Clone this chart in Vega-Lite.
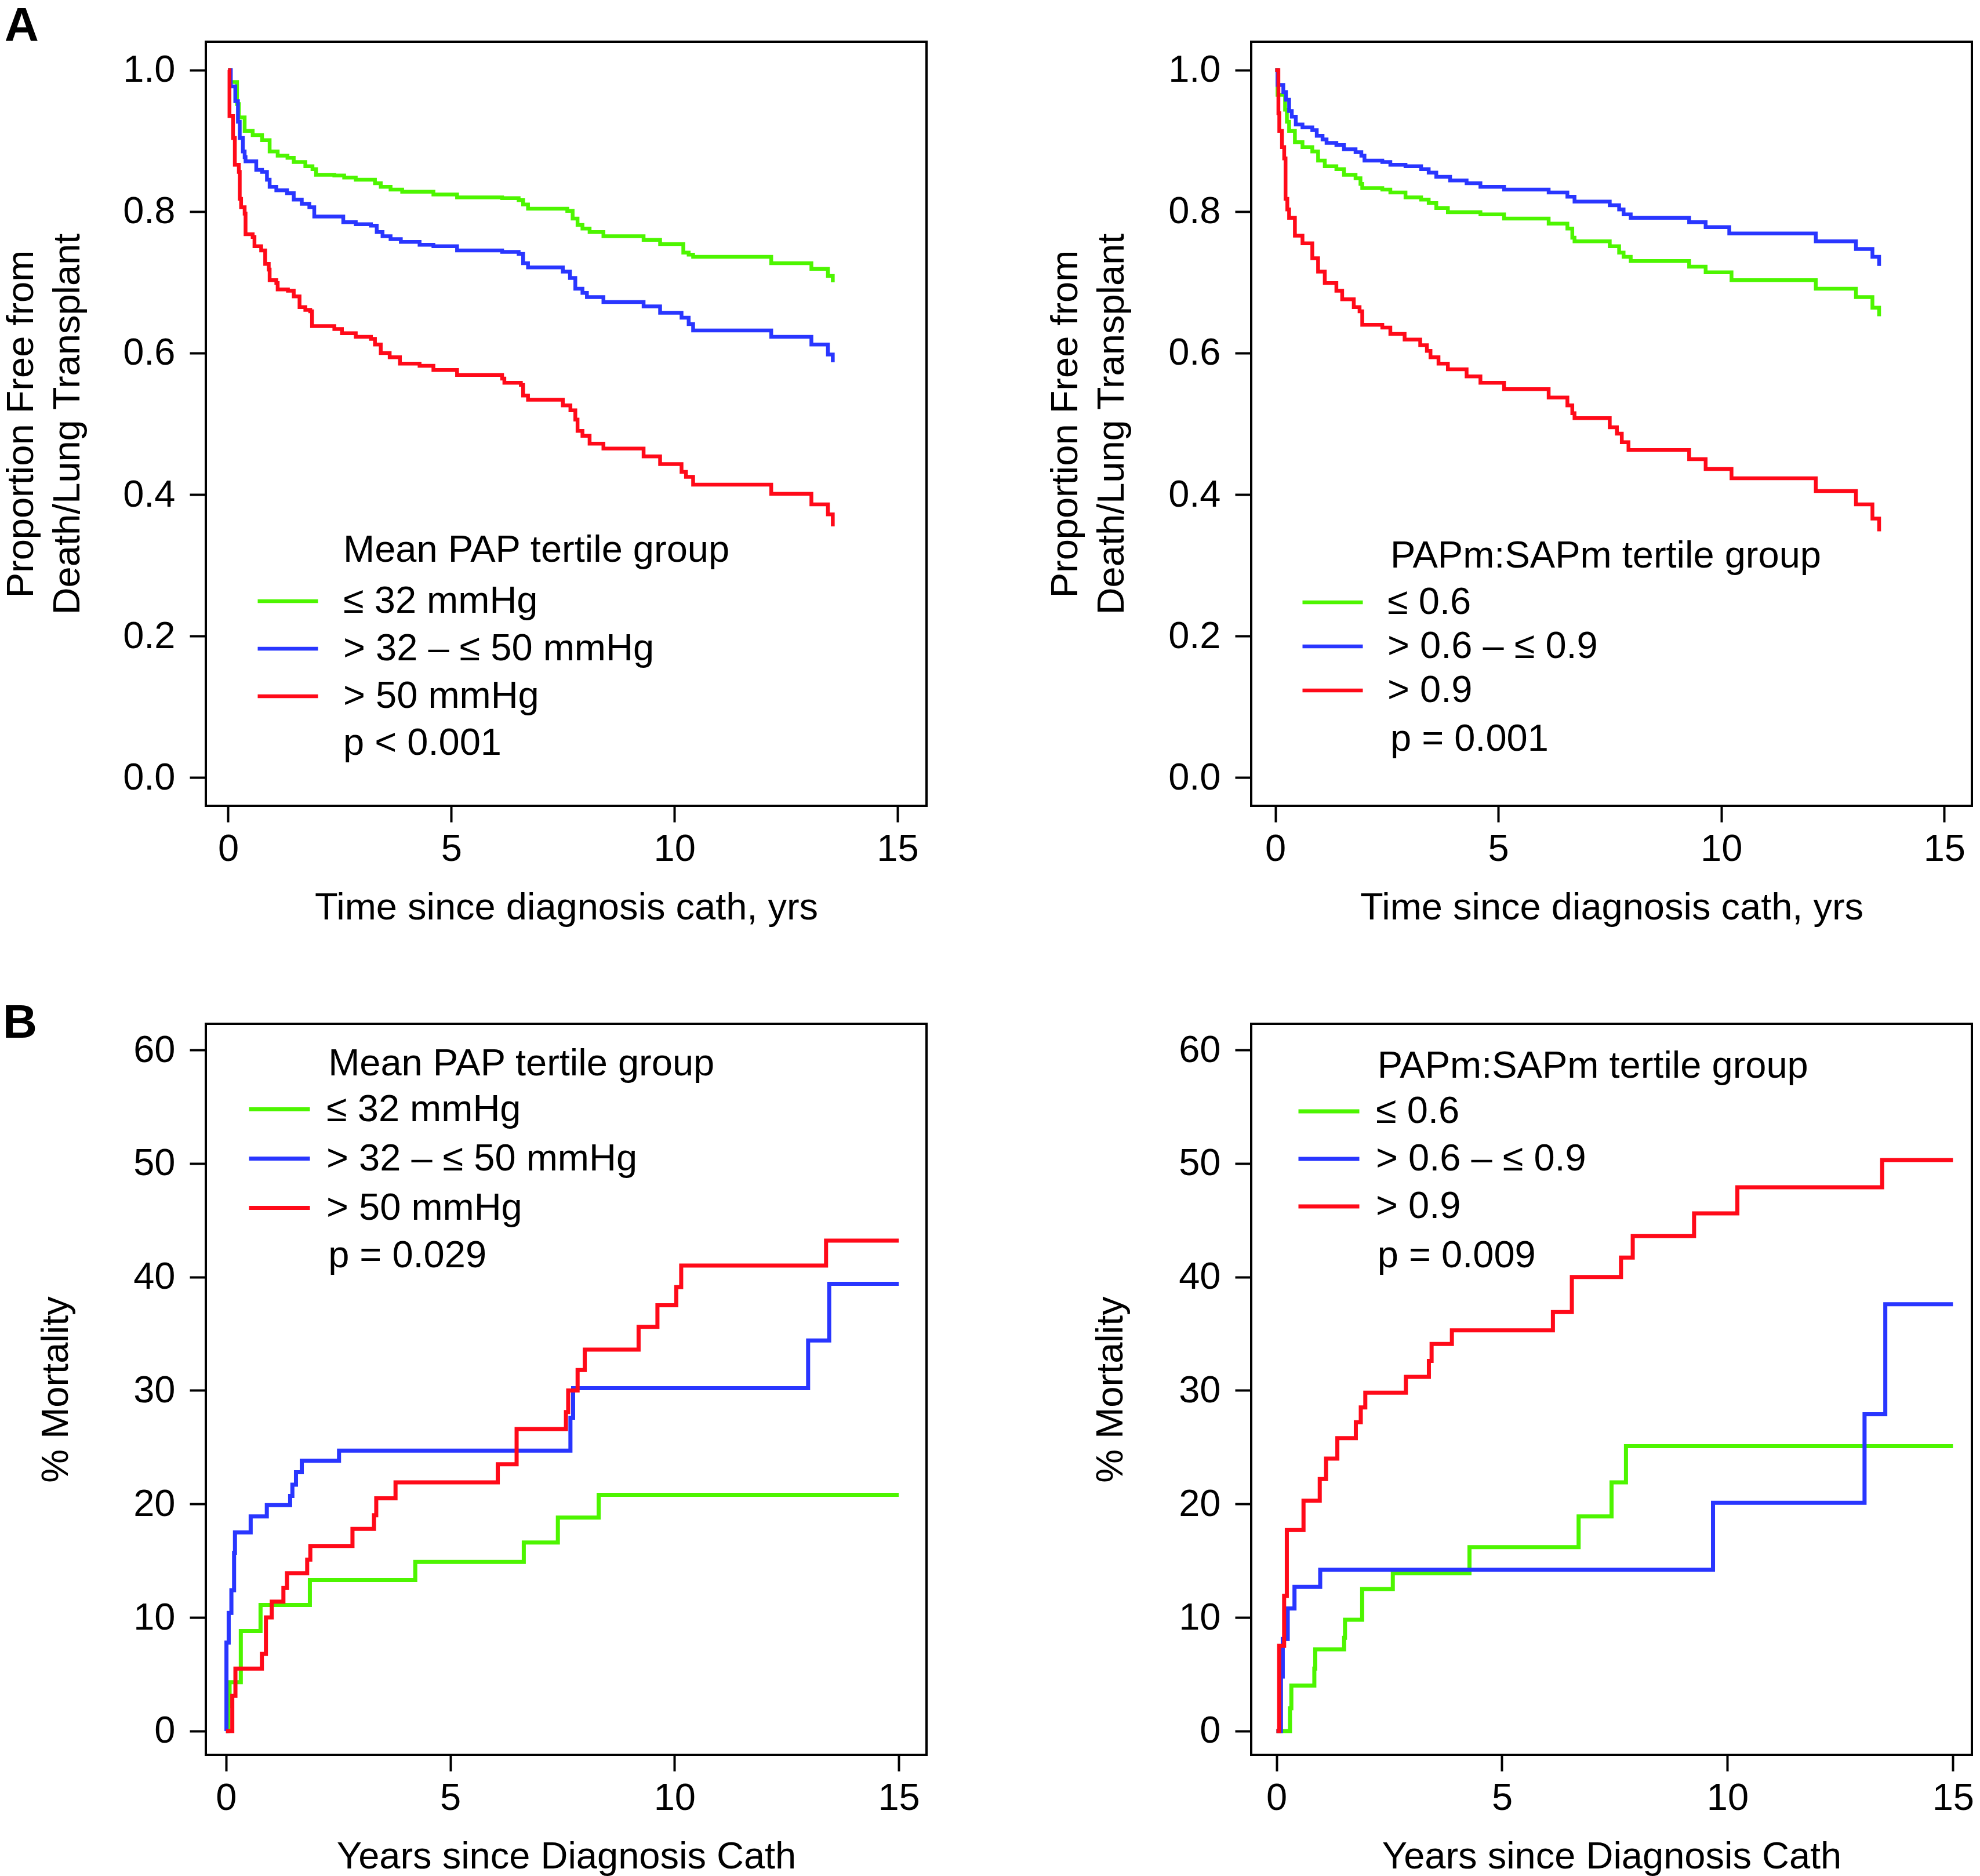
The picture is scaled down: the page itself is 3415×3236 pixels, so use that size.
{
  "$schema": "https://vega.github.io/schema/vega-lite/v6.json",
  "background": "white",
  "padding": {"left": 2, "top": 2, "right": 5, "bottom": 5},
  "config": {
    "font": "Liberation Sans",
    "view": {"stroke": "black", "strokeWidth": 4},
    "axis": {
      "domain": false, "grid": false, "ticks": true, "tickSize": 28, "tickWidth": 4, "tickColor": "black",
      "labelFont": "Liberation Sans", "labelFontSize": 65, "labelColor": "black",
      "titleFont": "Liberation Sans", "titleFontSize": 65, "titleFontWeight": "normal", "titleColor": "black",
      "labelPadding": 15, "titlePadding": 37, "labelFlush": false, "labelOverlap": false, "titleLineHeight": 80
    },
    "axisY": {"labelPadding": 25, "labelAngle": 0},
    "title": {"font": "Liberation Sans", "fontSize": 82, "fontWeight": "bold", "color": "black", "anchor": "start", "frame": "bounds", "baseline": "alphabetic"},
    "legend": {"padding": 0, "labelLimit": 0, "rowPadding": 0}
  },
  "datasets": {
    "km": [
      {"panel":"A1","group":"≤ 32 mmHg","t":0,"v":1.0},{"panel":"A1","group":"≤ 32 mmHg","t":0.05,"v":0.983},{"panel":"A1","group":"≤ 32 mmHg","t":0.2,"v":0.952},{"panel":"A1","group":"≤ 32 mmHg","t":0.24,"v":0.933},{"panel":"A1","group":"≤ 32 mmHg","t":0.37,"v":0.914},{"panel":"A1","group":"≤ 32 mmHg","t":0.55,"v":0.908},{"panel":"A1","group":"≤ 32 mmHg","t":0.76,"v":0.901},{"panel":"A1","group":"≤ 32 mmHg","t":0.93,"v":0.885},{"panel":"A1","group":"≤ 32 mmHg","t":1.11,"v":0.879},{"panel":"A1","group":"≤ 32 mmHg","t":1.33,"v":0.876},{"panel":"A1","group":"≤ 32 mmHg","t":1.47,"v":0.870},{"panel":"A1","group":"≤ 32 mmHg","t":1.73,"v":0.864},{"panel":"A1","group":"≤ 32 mmHg","t":1.89,"v":0.860},{"panel":"A1","group":"≤ 32 mmHg","t":1.97,"v":0.852},{"panel":"A1","group":"≤ 32 mmHg","t":2.38,"v":0.851},{"panel":"A1","group":"≤ 32 mmHg","t":2.6,"v":0.848},{"panel":"A1","group":"≤ 32 mmHg","t":2.86,"v":0.845},{"panel":"A1","group":"≤ 32 mmHg","t":3.29,"v":0.840},{"panel":"A1","group":"≤ 32 mmHg","t":3.42,"v":0.835},{"panel":"A1","group":"≤ 32 mmHg","t":3.64,"v":0.831},{"panel":"A1","group":"≤ 32 mmHg","t":3.9,"v":0.828},{"panel":"A1","group":"≤ 32 mmHg","t":4.6,"v":0.824},{"panel":"A1","group":"≤ 32 mmHg","t":5.13,"v":0.820},{"panel":"A1","group":"≤ 32 mmHg","t":6.14,"v":0.819},{"panel":"A1","group":"≤ 32 mmHg","t":6.51,"v":0.816},{"panel":"A1","group":"≤ 32 mmHg","t":6.61,"v":0.810},{"panel":"A1","group":"≤ 32 mmHg","t":6.72,"v":0.804},{"panel":"A1","group":"≤ 32 mmHg","t":7.6,"v":0.801},{"panel":"A1","group":"≤ 32 mmHg","t":7.72,"v":0.790},{"panel":"A1","group":"≤ 32 mmHg","t":7.83,"v":0.781},{"panel":"A1","group":"≤ 32 mmHg","t":7.94,"v":0.776},{"panel":"A1","group":"≤ 32 mmHg","t":8.1,"v":0.771},{"panel":"A1","group":"≤ 32 mmHg","t":8.41,"v":0.765},{"panel":"A1","group":"≤ 32 mmHg","t":9.31,"v":0.760},{"panel":"A1","group":"≤ 32 mmHg","t":9.68,"v":0.754},{"panel":"A1","group":"≤ 32 mmHg","t":10.2,"v":0.742},{"panel":"A1","group":"≤ 32 mmHg","t":10.32,"v":0.739},{"panel":"A1","group":"≤ 32 mmHg","t":10.42,"v":0.736},{"panel":"A1","group":"≤ 32 mmHg","t":12.17,"v":0.727},{"panel":"A1","group":"≤ 32 mmHg","t":13.07,"v":0.719},{"panel":"A1","group":"≤ 32 mmHg","t":13.44,"v":0.709},{"panel":"A1","group":"≤ 32 mmHg","t":13.55,"v":0.700},
      {"panel":"A1","group":"> 32 – ≤ 50 mmHg","t":0,"v":1.0},{"panel":"A1","group":"> 32 – ≤ 50 mmHg","t":0.06,"v":0.977},{"panel":"A1","group":"> 32 – ≤ 50 mmHg","t":0.16,"v":0.956},{"panel":"A1","group":"> 32 – ≤ 50 mmHg","t":0.22,"v":0.927},{"panel":"A1","group":"> 32 – ≤ 50 mmHg","t":0.26,"v":0.904},{"panel":"A1","group":"> 32 – ≤ 50 mmHg","t":0.33,"v":0.885},{"panel":"A1","group":"> 32 – ≤ 50 mmHg","t":0.37,"v":0.877},{"panel":"A1","group":"> 32 – ≤ 50 mmHg","t":0.39,"v":0.871},{"panel":"A1","group":"> 32 – ≤ 50 mmHg","t":0.63,"v":0.859},{"panel":"A1","group":"> 32 – ≤ 50 mmHg","t":0.76,"v":0.856},{"panel":"A1","group":"> 32 – ≤ 50 mmHg","t":0.87,"v":0.845},{"panel":"A1","group":"> 32 – ≤ 50 mmHg","t":0.93,"v":0.835},{"panel":"A1","group":"> 32 – ≤ 50 mmHg","t":1.08,"v":0.830},{"panel":"A1","group":"> 32 – ≤ 50 mmHg","t":1.32,"v":0.826},{"panel":"A1","group":"> 32 – ≤ 50 mmHg","t":1.47,"v":0.817},{"panel":"A1","group":"> 32 – ≤ 50 mmHg","t":1.65,"v":0.811},{"panel":"A1","group":"> 32 – ≤ 50 mmHg","t":1.82,"v":0.806},{"panel":"A1","group":"> 32 – ≤ 50 mmHg","t":1.93,"v":0.793},{"panel":"A1","group":"> 32 – ≤ 50 mmHg","t":2.58,"v":0.785},{"panel":"A1","group":"> 32 – ≤ 50 mmHg","t":2.86,"v":0.782},{"panel":"A1","group":"> 32 – ≤ 50 mmHg","t":3.2,"v":0.780},{"panel":"A1","group":"> 32 – ≤ 50 mmHg","t":3.33,"v":0.771},{"panel":"A1","group":"> 32 – ≤ 50 mmHg","t":3.46,"v":0.765},{"panel":"A1","group":"> 32 – ≤ 50 mmHg","t":3.64,"v":0.761},{"panel":"A1","group":"> 32 – ≤ 50 mmHg","t":3.87,"v":0.757},{"panel":"A1","group":"> 32 – ≤ 50 mmHg","t":4.29,"v":0.753},{"panel":"A1","group":"> 32 – ≤ 50 mmHg","t":4.6,"v":0.751},{"panel":"A1","group":"> 32 – ≤ 50 mmHg","t":5.13,"v":0.745},{"panel":"A1","group":"> 32 – ≤ 50 mmHg","t":6.14,"v":0.743},{"panel":"A1","group":"> 32 – ≤ 50 mmHg","t":6.51,"v":0.740},{"panel":"A1","group":"> 32 – ≤ 50 mmHg","t":6.61,"v":0.727},{"panel":"A1","group":"> 32 – ≤ 50 mmHg","t":6.72,"v":0.721},{"panel":"A1","group":"> 32 – ≤ 50 mmHg","t":7.5,"v":0.715},{"panel":"A1","group":"> 32 – ≤ 50 mmHg","t":7.66,"v":0.706},{"panel":"A1","group":"> 32 – ≤ 50 mmHg","t":7.78,"v":0.691},{"panel":"A1","group":"> 32 – ≤ 50 mmHg","t":7.94,"v":0.685},{"panel":"A1","group":"> 32 – ≤ 50 mmHg","t":8.04,"v":0.679},{"panel":"A1","group":"> 32 – ≤ 50 mmHg","t":8.41,"v":0.672},{"panel":"A1","group":"> 32 – ≤ 50 mmHg","t":9.31,"v":0.666},{"panel":"A1","group":"> 32 – ≤ 50 mmHg","t":9.68,"v":0.657},{"panel":"A1","group":"> 32 – ≤ 50 mmHg","t":10.16,"v":0.650},{"panel":"A1","group":"> 32 – ≤ 50 mmHg","t":10.32,"v":0.641},{"panel":"A1","group":"> 32 – ≤ 50 mmHg","t":10.42,"v":0.632},{"panel":"A1","group":"> 32 – ≤ 50 mmHg","t":12.17,"v":0.623},{"panel":"A1","group":"> 32 – ≤ 50 mmHg","t":13.07,"v":0.612},{"panel":"A1","group":"> 32 – ≤ 50 mmHg","t":13.44,"v":0.598},{"panel":"A1","group":"> 32 – ≤ 50 mmHg","t":13.55,"v":0.587},
      {"panel":"A1","group":"> 50 mmHg","t":0,"v":1.0},{"panel":"A1","group":"> 50 mmHg","t":0.03,"v":0.935},{"panel":"A1","group":"> 50 mmHg","t":0.11,"v":0.904},{"panel":"A1","group":"> 50 mmHg","t":0.15,"v":0.866},{"panel":"A1","group":"> 50 mmHg","t":0.24,"v":0.856},{"panel":"A1","group":"> 50 mmHg","t":0.26,"v":0.818},{"panel":"A1","group":"> 50 mmHg","t":0.29,"v":0.806},{"panel":"A1","group":"> 50 mmHg","t":0.37,"v":0.797},{"panel":"A1","group":"> 50 mmHg","t":0.39,"v":0.768},{"panel":"A1","group":"> 50 mmHg","t":0.55,"v":0.764},{"panel":"A1","group":"> 50 mmHg","t":0.59,"v":0.751},{"panel":"A1","group":"> 50 mmHg","t":0.74,"v":0.745},{"panel":"A1","group":"> 50 mmHg","t":0.83,"v":0.726},{"panel":"A1","group":"> 50 mmHg","t":0.91,"v":0.718},{"panel":"A1","group":"> 50 mmHg","t":0.93,"v":0.703},{"panel":"A1","group":"> 50 mmHg","t":1.08,"v":0.699},{"panel":"A1","group":"> 50 mmHg","t":1.11,"v":0.690},{"panel":"A1","group":"> 50 mmHg","t":1.34,"v":0.688},{"panel":"A1","group":"> 50 mmHg","t":1.47,"v":0.680},{"panel":"A1","group":"> 50 mmHg","t":1.6,"v":0.665},{"panel":"A1","group":"> 50 mmHg","t":1.73,"v":0.661},{"panel":"A1","group":"> 50 mmHg","t":1.84,"v":0.659},{"panel":"A1","group":"> 50 mmHg","t":1.88,"v":0.638},{"panel":"A1","group":"> 50 mmHg","t":2.38,"v":0.634},{"panel":"A1","group":"> 50 mmHg","t":2.55,"v":0.628},{"panel":"A1","group":"> 50 mmHg","t":2.86,"v":0.623},{"panel":"A1","group":"> 50 mmHg","t":3.2,"v":0.620},{"panel":"A1","group":"> 50 mmHg","t":3.29,"v":0.612},{"panel":"A1","group":"> 50 mmHg","t":3.42,"v":0.600},{"panel":"A1","group":"> 50 mmHg","t":3.62,"v":0.594},{"panel":"A1","group":"> 50 mmHg","t":3.85,"v":0.585},{"panel":"A1","group":"> 50 mmHg","t":4.29,"v":0.582},{"panel":"A1","group":"> 50 mmHg","t":4.6,"v":0.576},{"panel":"A1","group":"> 50 mmHg","t":5.13,"v":0.569},{"panel":"A1","group":"> 50 mmHg","t":6.14,"v":0.564},{"panel":"A1","group":"> 50 mmHg","t":6.19,"v":0.558},{"panel":"A1","group":"> 50 mmHg","t":6.56,"v":0.555},{"panel":"A1","group":"> 50 mmHg","t":6.61,"v":0.540},{"panel":"A1","group":"> 50 mmHg","t":6.72,"v":0.534},{"panel":"A1","group":"> 50 mmHg","t":7.5,"v":0.526},{"panel":"A1","group":"> 50 mmHg","t":7.67,"v":0.519},{"panel":"A1","group":"> 50 mmHg","t":7.78,"v":0.506},{"panel":"A1","group":"> 50 mmHg","t":7.83,"v":0.490},{"panel":"A1","group":"> 50 mmHg","t":7.94,"v":0.483},{"panel":"A1","group":"> 50 mmHg","t":8.1,"v":0.472},{"panel":"A1","group":"> 50 mmHg","t":8.41,"v":0.465},{"panel":"A1","group":"> 50 mmHg","t":9.31,"v":0.454},{"panel":"A1","group":"> 50 mmHg","t":9.68,"v":0.443},{"panel":"A1","group":"> 50 mmHg","t":10.16,"v":0.432},{"panel":"A1","group":"> 50 mmHg","t":10.26,"v":0.425},{"panel":"A1","group":"> 50 mmHg","t":10.42,"v":0.414},{"panel":"A1","group":"> 50 mmHg","t":12.17,"v":0.401},{"panel":"A1","group":"> 50 mmHg","t":13.07,"v":0.386},{"panel":"A1","group":"> 50 mmHg","t":13.44,"v":0.372},{"panel":"A1","group":"> 50 mmHg","t":13.55,"v":0.355},
      {"panel":"A2","group":"≤ 0.6","t":0,"v":1.0},{"panel":"A2","group":"≤ 0.6","t":0.05,"v":0.965},{"panel":"A2","group":"≤ 0.6","t":0.22,"v":0.944},{"panel":"A2","group":"≤ 0.6","t":0.26,"v":0.927},{"panel":"A2","group":"≤ 0.6","t":0.31,"v":0.914},{"panel":"A2","group":"≤ 0.6","t":0.44,"v":0.898},{"panel":"A2","group":"≤ 0.6","t":0.61,"v":0.891},{"panel":"A2","group":"≤ 0.6","t":0.83,"v":0.885},{"panel":"A2","group":"≤ 0.6","t":0.96,"v":0.872},{"panel":"A2","group":"≤ 0.6","t":1.11,"v":0.864},{"panel":"A2","group":"≤ 0.6","t":1.37,"v":0.860},{"panel":"A2","group":"≤ 0.6","t":1.54,"v":0.852},{"panel":"A2","group":"≤ 0.6","t":1.8,"v":0.847},{"panel":"A2","group":"≤ 0.6","t":1.91,"v":0.839},{"panel":"A2","group":"≤ 0.6","t":1.95,"v":0.833},{"panel":"A2","group":"≤ 0.6","t":2.4,"v":0.831},{"panel":"A2","group":"≤ 0.6","t":2.58,"v":0.827},{"panel":"A2","group":"≤ 0.6","t":2.92,"v":0.820},{"panel":"A2","group":"≤ 0.6","t":3.27,"v":0.817},{"panel":"A2","group":"≤ 0.6","t":3.44,"v":0.812},{"panel":"A2","group":"≤ 0.6","t":3.61,"v":0.805},{"panel":"A2","group":"≤ 0.6","t":3.87,"v":0.799},{"panel":"A2","group":"≤ 0.6","t":4.6,"v":0.796},{"panel":"A2","group":"≤ 0.6","t":5.13,"v":0.790},{"panel":"A2","group":"≤ 0.6","t":6.13,"v":0.783},{"panel":"A2","group":"≤ 0.6","t":6.55,"v":0.776},{"panel":"A2","group":"≤ 0.6","t":6.66,"v":0.763},{"panel":"A2","group":"≤ 0.6","t":6.71,"v":0.758},{"panel":"A2","group":"≤ 0.6","t":7.5,"v":0.751},{"panel":"A2","group":"≤ 0.6","t":7.71,"v":0.742},{"panel":"A2","group":"≤ 0.6","t":7.81,"v":0.736},{"panel":"A2","group":"≤ 0.6","t":7.97,"v":0.730},{"panel":"A2","group":"≤ 0.6","t":9.28,"v":0.722},{"panel":"A2","group":"≤ 0.6","t":9.65,"v":0.714},{"panel":"A2","group":"≤ 0.6","t":10.23,"v":0.703},{"panel":"A2","group":"≤ 0.6","t":12.12,"v":0.691},{"panel":"A2","group":"≤ 0.6","t":13.02,"v":0.679},{"panel":"A2","group":"≤ 0.6","t":13.39,"v":0.664},{"panel":"A2","group":"≤ 0.6","t":13.54,"v":0.652},
      {"panel":"A2","group":"> 0.6 – ≤ 0.9","t":0,"v":1.0},{"panel":"A2","group":"> 0.6 – ≤ 0.9","t":0.05,"v":0.979},{"panel":"A2","group":"> 0.6 – ≤ 0.9","t":0.18,"v":0.969},{"panel":"A2","group":"> 0.6 – ≤ 0.9","t":0.24,"v":0.958},{"panel":"A2","group":"> 0.6 – ≤ 0.9","t":0.31,"v":0.942},{"panel":"A2","group":"> 0.6 – ≤ 0.9","t":0.37,"v":0.934},{"panel":"A2","group":"> 0.6 – ≤ 0.9","t":0.46,"v":0.923},{"panel":"A2","group":"> 0.6 – ≤ 0.9","t":0.61,"v":0.919},{"panel":"A2","group":"> 0.6 – ≤ 0.9","t":0.83,"v":0.915},{"panel":"A2","group":"> 0.6 – ≤ 0.9","t":0.93,"v":0.907},{"panel":"A2","group":"> 0.6 – ≤ 0.9","t":1.06,"v":0.902},{"panel":"A2","group":"> 0.6 – ≤ 0.9","t":1.15,"v":0.897},{"panel":"A2","group":"> 0.6 – ≤ 0.9","t":1.37,"v":0.894},{"panel":"A2","group":"> 0.6 – ≤ 0.9","t":1.54,"v":0.888},{"panel":"A2","group":"> 0.6 – ≤ 0.9","t":1.8,"v":0.884},{"panel":"A2","group":"> 0.6 – ≤ 0.9","t":1.93,"v":0.879},{"panel":"A2","group":"> 0.6 – ≤ 0.9","t":2.0,"v":0.872},{"panel":"A2","group":"> 0.6 – ≤ 0.9","t":2.4,"v":0.870},{"panel":"A2","group":"> 0.6 – ≤ 0.9","t":2.58,"v":0.866},{"panel":"A2","group":"> 0.6 – ≤ 0.9","t":2.92,"v":0.864},{"panel":"A2","group":"> 0.6 – ≤ 0.9","t":3.27,"v":0.860},{"panel":"A2","group":"> 0.6 – ≤ 0.9","t":3.44,"v":0.855},{"panel":"A2","group":"> 0.6 – ≤ 0.9","t":3.61,"v":0.849},{"panel":"A2","group":"> 0.6 – ≤ 0.9","t":3.92,"v":0.844},{"panel":"A2","group":"> 0.6 – ≤ 0.9","t":4.29,"v":0.840},{"panel":"A2","group":"> 0.6 – ≤ 0.9","t":4.6,"v":0.835},{"panel":"A2","group":"> 0.6 – ≤ 0.9","t":5.13,"v":0.831},{"panel":"A2","group":"> 0.6 – ≤ 0.9","t":6.13,"v":0.827},{"panel":"A2","group":"> 0.6 – ≤ 0.9","t":6.55,"v":0.821},{"panel":"A2","group":"> 0.6 – ≤ 0.9","t":6.71,"v":0.814},{"panel":"A2","group":"> 0.6 – ≤ 0.9","t":7.5,"v":0.809},{"panel":"A2","group":"> 0.6 – ≤ 0.9","t":7.71,"v":0.803},{"panel":"A2","group":"> 0.6 – ≤ 0.9","t":7.81,"v":0.796},{"panel":"A2","group":"> 0.6 – ≤ 0.9","t":7.97,"v":0.791},{"panel":"A2","group":"> 0.6 – ≤ 0.9","t":9.28,"v":0.785},{"panel":"A2","group":"> 0.6 – ≤ 0.9","t":9.65,"v":0.778},{"panel":"A2","group":"> 0.6 – ≤ 0.9","t":10.18,"v":0.769},{"panel":"A2","group":"> 0.6 – ≤ 0.9","t":12.12,"v":0.758},{"panel":"A2","group":"> 0.6 – ≤ 0.9","t":13.02,"v":0.747},{"panel":"A2","group":"> 0.6 – ≤ 0.9","t":13.39,"v":0.736},{"panel":"A2","group":"> 0.6 – ≤ 0.9","t":13.54,"v":0.723},
      {"panel":"A2","group":"> 0.9","t":0,"v":1.0},{"panel":"A2","group":"> 0.9","t":0.07,"v":0.939},{"panel":"A2","group":"> 0.9","t":0.09,"v":0.914},{"panel":"A2","group":"> 0.9","t":0.15,"v":0.891},{"panel":"A2","group":"> 0.9","t":0.2,"v":0.875},{"panel":"A2","group":"> 0.9","t":0.23,"v":0.818},{"panel":"A2","group":"> 0.9","t":0.27,"v":0.803},{"panel":"A2","group":"> 0.9","t":0.31,"v":0.791},{"panel":"A2","group":"> 0.9","t":0.44,"v":0.766},{"panel":"A2","group":"> 0.9","t":0.61,"v":0.755},{"panel":"A2","group":"> 0.9","t":0.83,"v":0.734},{"panel":"A2","group":"> 0.9","t":0.96,"v":0.715},{"panel":"A2","group":"> 0.9","t":1.11,"v":0.699},{"panel":"A2","group":"> 0.9","t":1.37,"v":0.688},{"panel":"A2","group":"> 0.9","t":1.5,"v":0.676},{"panel":"A2","group":"> 0.9","t":1.76,"v":0.665},{"panel":"A2","group":"> 0.9","t":1.89,"v":0.659},{"panel":"A2","group":"> 0.9","t":1.95,"v":0.640},{"panel":"A2","group":"> 0.9","t":2.4,"v":0.636},{"panel":"A2","group":"> 0.9","t":2.58,"v":0.627},{"panel":"A2","group":"> 0.9","t":2.9,"v":0.619},{"panel":"A2","group":"> 0.9","t":3.25,"v":0.611},{"panel":"A2","group":"> 0.9","t":3.4,"v":0.603},{"panel":"A2","group":"> 0.9","t":3.48,"v":0.594},{"panel":"A2","group":"> 0.9","t":3.66,"v":0.585},{"panel":"A2","group":"> 0.9","t":3.87,"v":0.577},{"panel":"A2","group":"> 0.9","t":4.29,"v":0.567},{"panel":"A2","group":"> 0.9","t":4.6,"v":0.558},{"panel":"A2","group":"> 0.9","t":5.13,"v":0.549},{"panel":"A2","group":"> 0.9","t":6.13,"v":0.537},{"panel":"A2","group":"> 0.9","t":6.55,"v":0.526},{"panel":"A2","group":"> 0.9","t":6.66,"v":0.515},{"panel":"A2","group":"> 0.9","t":6.71,"v":0.508},{"panel":"A2","group":"> 0.9","t":7.5,"v":0.495},{"panel":"A2","group":"> 0.9","t":7.66,"v":0.486},{"panel":"A2","group":"> 0.9","t":7.77,"v":0.474},{"panel":"A2","group":"> 0.9","t":7.92,"v":0.463},{"panel":"A2","group":"> 0.9","t":9.28,"v":0.450},{"panel":"A2","group":"> 0.9","t":9.65,"v":0.436},{"panel":"A2","group":"> 0.9","t":10.23,"v":0.423},{"panel":"A2","group":"> 0.9","t":12.12,"v":0.405},{"panel":"A2","group":"> 0.9","t":13.02,"v":0.386},{"panel":"A2","group":"> 0.9","t":13.39,"v":0.366},{"panel":"A2","group":"> 0.9","t":13.54,"v":0.348},
      {"panel":"B1","group":"≤ 32 mmHg","t":0,"v":0},{"panel":"B1","group":"≤ 32 mmHg","t":0.05,"v":2.2},{"panel":"B1","group":"≤ 32 mmHg","t":0.08,"v":4.3},{"panel":"B1","group":"≤ 32 mmHg","t":0.33,"v":8.8},{"panel":"B1","group":"≤ 32 mmHg","t":0.77,"v":11.1},{"panel":"B1","group":"≤ 32 mmHg","t":1.87,"v":13.3},{"panel":"B1","group":"≤ 32 mmHg","t":4.22,"v":14.9},{"panel":"B1","group":"≤ 32 mmHg","t":6.64,"v":16.6},{"panel":"B1","group":"≤ 32 mmHg","t":7.4,"v":18.8},{"panel":"B1","group":"≤ 32 mmHg","t":8.31,"v":20.8},{"panel":"B1","group":"≤ 32 mmHg","t":15.0,"v":20.8},
      {"panel":"B1","group":"> 32 – ≤ 50 mmHg","t":0,"v":0},{"panel":"B1","group":"> 32 – ≤ 50 mmHg","t":0.01,"v":7.8},{"panel":"B1","group":"> 32 – ≤ 50 mmHg","t":0.06,"v":10.4},{"panel":"B1","group":"> 32 – ≤ 50 mmHg","t":0.12,"v":12.4},{"panel":"B1","group":"> 32 – ≤ 50 mmHg","t":0.18,"v":15.7},{"panel":"B1","group":"> 32 – ≤ 50 mmHg","t":0.2,"v":17.5},{"panel":"B1","group":"> 32 – ≤ 50 mmHg","t":0.55,"v":18.9},{"panel":"B1","group":"> 32 – ≤ 50 mmHg","t":0.91,"v":19.9},{"panel":"B1","group":"> 32 – ≤ 50 mmHg","t":1.43,"v":20.7},{"panel":"B1","group":"> 32 – ≤ 50 mmHg","t":1.48,"v":21.7},{"panel":"B1","group":"> 32 – ≤ 50 mmHg","t":1.56,"v":22.8},{"panel":"B1","group":"> 32 – ≤ 50 mmHg","t":1.69,"v":23.8},{"panel":"B1","group":"> 32 – ≤ 50 mmHg","t":2.52,"v":24.7},{"panel":"B1","group":"> 32 – ≤ 50 mmHg","t":7.68,"v":27.6},{"panel":"B1","group":"> 32 – ≤ 50 mmHg","t":7.74,"v":30.2},{"panel":"B1","group":"> 32 – ≤ 50 mmHg","t":12.98,"v":34.4},{"panel":"B1","group":"> 32 – ≤ 50 mmHg","t":13.45,"v":39.4},{"panel":"B1","group":"> 32 – ≤ 50 mmHg","t":15.0,"v":39.4},
      {"panel":"B1","group":"> 50 mmHg","t":0,"v":0},{"panel":"B1","group":"> 50 mmHg","t":0.14,"v":3.1},{"panel":"B1","group":"> 50 mmHg","t":0.21,"v":5.5},{"panel":"B1","group":"> 50 mmHg","t":0.8,"v":6.8},{"panel":"B1","group":"> 50 mmHg","t":0.89,"v":10.0},{"panel":"B1","group":"> 50 mmHg","t":1.02,"v":11.4},{"panel":"B1","group":"> 50 mmHg","t":1.28,"v":12.6},{"panel":"B1","group":"> 50 mmHg","t":1.36,"v":13.9},{"panel":"B1","group":"> 50 mmHg","t":1.81,"v":15.1},{"panel":"B1","group":"> 50 mmHg","t":1.88,"v":16.3},{"panel":"B1","group":"> 50 mmHg","t":2.82,"v":17.8},{"panel":"B1","group":"> 50 mmHg","t":3.3,"v":19.0},{"panel":"B1","group":"> 50 mmHg","t":3.35,"v":20.5},{"panel":"B1","group":"> 50 mmHg","t":3.78,"v":21.9},{"panel":"B1","group":"> 50 mmHg","t":6.06,"v":23.5},{"panel":"B1","group":"> 50 mmHg","t":6.48,"v":26.6},{"panel":"B1","group":"> 50 mmHg","t":7.58,"v":28.1},{"panel":"B1","group":"> 50 mmHg","t":7.63,"v":30.0},{"panel":"B1","group":"> 50 mmHg","t":7.84,"v":31.8},{"panel":"B1","group":"> 50 mmHg","t":8.0,"v":33.6},{"panel":"B1","group":"> 50 mmHg","t":9.2,"v":35.6},{"panel":"B1","group":"> 50 mmHg","t":9.62,"v":37.5},{"panel":"B1","group":"> 50 mmHg","t":10.04,"v":39.1},{"panel":"B1","group":"> 50 mmHg","t":10.15,"v":41.0},{"panel":"B1","group":"> 50 mmHg","t":13.38,"v":43.2},{"panel":"B1","group":"> 50 mmHg","t":15.0,"v":43.2},
      {"panel":"B2","group":"≤ 0.6","t":0,"v":0},{"panel":"B2","group":"≤ 0.6","t":0.3,"v":2.0},{"panel":"B2","group":"≤ 0.6","t":0.33,"v":4.0},{"panel":"B2","group":"≤ 0.6","t":0.84,"v":5.5},{"panel":"B2","group":"≤ 0.6","t":0.86,"v":7.2},{"panel":"B2","group":"≤ 0.6","t":1.5,"v":8.2},{"panel":"B2","group":"≤ 0.6","t":1.52,"v":9.8},{"panel":"B2","group":"≤ 0.6","t":1.9,"v":12.5},{"panel":"B2","group":"≤ 0.6","t":2.58,"v":13.9},{"panel":"B2","group":"≤ 0.6","t":4.28,"v":16.2},{"panel":"B2","group":"≤ 0.6","t":6.7,"v":18.9},{"panel":"B2","group":"≤ 0.6","t":7.43,"v":21.9},{"panel":"B2","group":"≤ 0.6","t":7.75,"v":25.1},{"panel":"B2","group":"≤ 0.6","t":15.0,"v":25.1},
      {"panel":"B2","group":"> 0.6 – ≤ 0.9","t":0,"v":0},{"panel":"B2","group":"> 0.6 – ≤ 0.9","t":0.1,"v":4.8},{"panel":"B2","group":"> 0.6 – ≤ 0.9","t":0.14,"v":8.1},{"panel":"B2","group":"> 0.6 – ≤ 0.9","t":0.25,"v":10.8},{"panel":"B2","group":"> 0.6 – ≤ 0.9","t":0.4,"v":12.7},{"panel":"B2","group":"> 0.6 – ≤ 0.9","t":0.97,"v":14.2},{"panel":"B2","group":"> 0.6 – ≤ 0.9","t":9.68,"v":20.1},{"panel":"B2","group":"> 0.6 – ≤ 0.9","t":13.04,"v":27.9},{"panel":"B2","group":"> 0.6 – ≤ 0.9","t":13.5,"v":37.6},{"panel":"B2","group":"> 0.6 – ≤ 0.9","t":15.0,"v":37.6},
      {"panel":"B2","group":"> 0.9","t":0,"v":0},{"panel":"B2","group":"> 0.9","t":0.06,"v":7.5},{"panel":"B2","group":"> 0.9","t":0.17,"v":11.9},{"panel":"B2","group":"> 0.9","t":0.23,"v":17.7},{"panel":"B2","group":"> 0.9","t":0.6,"v":20.3},{"panel":"B2","group":"> 0.9","t":0.96,"v":22.2},{"panel":"B2","group":"> 0.9","t":1.1,"v":24.0},{"panel":"B2","group":"> 0.9","t":1.35,"v":25.8},{"panel":"B2","group":"> 0.9","t":1.76,"v":27.2},{"panel":"B2","group":"> 0.9","t":1.87,"v":28.5},{"panel":"B2","group":"> 0.9","t":1.97,"v":29.8},{"panel":"B2","group":"> 0.9","t":2.87,"v":31.2},{"panel":"B2","group":"> 0.9","t":3.38,"v":32.6},{"panel":"B2","group":"> 0.9","t":3.44,"v":34.1},{"panel":"B2","group":"> 0.9","t":3.89,"v":35.3},{"panel":"B2","group":"> 0.9","t":6.13,"v":36.9},{"panel":"B2","group":"> 0.9","t":6.55,"v":40.0},{"panel":"B2","group":"> 0.9","t":7.64,"v":41.7},{"panel":"B2","group":"> 0.9","t":7.9,"v":43.6},{"panel":"B2","group":"> 0.9","t":9.26,"v":45.6},{"panel":"B2","group":"> 0.9","t":10.22,"v":47.9},{"panel":"B2","group":"> 0.9","t":13.43,"v":50.3},{"panel":"B2","group":"> 0.9","t":15.0,"v":50.3}
    ],
    "notes": [
      {"panel":"A1","heading":"Mean PAP tertile group","p":"p < 0.001"},
      {"panel":"A2","heading":"PAPm:SAPm tertile group","p":"p = 0.001"},
      {"panel":"B1","heading":"Mean PAP tertile group","p":"p = 0.029"},
      {"panel":"B2","heading":"PAPm:SAPm tertile group","p":"p = 0.009"}
    ]
  },
  "columns": 2,
  "spacing": {"row": 376, "column": 560},
  "bounds": "flush",
  "resolve": {"scale": {"x": "independent", "y": "independent", "color": "independent"}, "legend": {"color": "independent"}, "axis": {"x": "independent", "y": "independent"}},
  "concat": [
    {
      "width": 1243, "height": 1318,
      "title": {"text": "A", "offset": -15, "dx": 3},
      "layer": [
        {
          "data": {"name": "km"},
          "transform": [{"filter": "datum.panel === 'A1'"}],
          "mark": {"type": "line", "interpolate": "step-after", "strokeWidth": 6.5},
          "encoding": {
            "x": {"field": "t", "type": "quantitative", "scale": {"domain": [-0.5, 15.65], "nice": false, "zero": false}, "axis": {"values": [0, 5, 10, 15], "format": "d", "title": "Time since diagnosis cath, yrs"}},
            "y": {"field": "v", "type": "quantitative", "scale": {"domain": [-0.04, 1.04], "nice": false, "zero": false}, "axis": {"values": [0, 0.2, 0.4, 0.6, 0.8, 1.0], "format": ".1f", "title": ["Proportion Free from", "Death/Lung Transplant"], "titlePadding": 61}},
            "color": {"field": "group", "type": "nominal", "sort": null,
              "scale": {"domain": ["≤ 32 mmHg", "> 32 – ≤ 50 mmHg", "> 50 mmHg"], "range": ["#4DF500", "#2936FF", "#FF0A19"]},
              "legend": {"orient": "none", "legendX": 86, "legendY": 924, "title": null, "symbolType": "stroke", "symbolSize": 10816, "symbolStrokeWidth": 6.5, "labelFontSize": 65, "labelColor": "black", "labelOffset": 40, "clipHeight": 82}}
          }
        },
        {
          "data": {"name": "notes"},
          "transform": [{"filter": "datum.panel === 'A1'"}],
          "mark": {"type": "text", "align": "left", "baseline": "alphabetic", "fontSize": 65, "color": "black"},
          "encoding": {"x": {"datum": 2.58, "type": "quantitative"}, "y": {"datum": 0.305, "type": "quantitative"}, "text": {"field": "heading"}}
        },
        {
          "data": {"name": "notes"},
          "transform": [{"filter": "datum.panel === 'A1'"}],
          "mark": {"type": "text", "align": "left", "baseline": "alphabetic", "fontSize": 65, "color": "black"},
          "encoding": {"x": {"datum": 2.58, "type": "quantitative"}, "y": {"datum": 0.032, "type": "quantitative"}, "text": {"field": "p"}}
        }
      ]
    },
    {
      "width": 1243, "height": 1318,
      "layer": [
        {
          "data": {"name": "km"},
          "transform": [{"filter": "datum.panel === 'A2'"}],
          "mark": {"type": "line", "interpolate": "step-after", "strokeWidth": 6.5},
          "encoding": {
            "x": {"field": "t", "type": "quantitative", "scale": {"domain": [-0.54, 15.62], "nice": false, "zero": false}, "axis": {"values": [0, 5, 10, 15], "format": "d", "title": "Time since diagnosis cath, yrs"}},
            "y": {"field": "v", "type": "quantitative", "scale": {"domain": [-0.04, 1.04], "nice": false, "zero": false}, "axis": {"values": [0, 0.2, 0.4, 0.6, 0.8, 1.0], "format": ".1f", "title": ["Proportion Free from", "Death/Lung Transplant"], "titlePadding": 63}},
            "color": {"field": "group", "type": "nominal", "sort": null,
              "scale": {"domain": ["≤ 0.6", "> 0.6 – ≤ 0.9", "> 0.9"], "range": ["#4DF500", "#2936FF", "#FF0A19"]},
              "legend": {"orient": "none", "legendX": 85, "legendY": 929, "title": null, "symbolType": "stroke", "symbolSize": 10816, "symbolStrokeWidth": 6.5, "labelFontSize": 65, "labelColor": "black", "labelOffset": 39, "clipHeight": 76}}
          }
        },
        {
          "data": {"name": "notes"},
          "transform": [{"filter": "datum.panel === 'A2'"}],
          "mark": {"type": "text", "align": "left", "baseline": "alphabetic", "fontSize": 65, "color": "black"},
          "encoding": {"x": {"datum": 2.58, "type": "quantitative"}, "y": {"datum": 0.297, "type": "quantitative"}, "text": {"field": "heading"}}
        },
        {
          "data": {"name": "notes"},
          "transform": [{"filter": "datum.panel === 'A2'"}],
          "mark": {"type": "text", "align": "left", "baseline": "alphabetic", "fontSize": 65, "color": "black"},
          "encoding": {"x": {"datum": 2.58, "type": "quantitative"}, "y": {"datum": 0.038, "type": "quantitative"}, "text": {"field": "p"}}
        }
      ]
    },
    {
      "width": 1243, "height": 1261,
      "title": {"text": "B", "offset": -41, "dx": -60},
      "layer": [
        {
          "data": {"name": "km"},
          "transform": [{"filter": "datum.panel === 'B1'"}],
          "mark": {"type": "line", "interpolate": "step-after", "strokeWidth": 7},
          "encoding": {
            "x": {"field": "t", "type": "quantitative", "scale": {"domain": [-0.45, 15.62], "nice": false, "zero": false}, "axis": {"values": [0, 5, 10, 15], "format": "d", "title": "Years since Diagnosis Cath"}},
            "y": {"field": "v", "type": "quantitative", "scale": {"domain": [-2.1, 62.3], "nice": false, "zero": false}, "axis": {"values": [0, 10, 20, 30, 40, 50, 60], "format": "d", "title": "% Mortality", "titlePadding": 99}},
            "color": {"field": "group", "type": "nominal", "sort": null,
              "scale": {"domain": ["≤ 32 mmHg", "> 32 – ≤ 50 mmHg", "> 50 mmHg"], "range": ["#4DF500", "#2936FF", "#FF0A19"]},
              "legend": {"orient": "none", "legendX": 71, "legendY": 105, "title": null, "symbolType": "stroke", "symbolSize": 11025, "symbolStrokeWidth": 7, "labelFontSize": 65, "labelColor": "black", "labelOffset": 25, "clipHeight": 85}}
          }
        },
        {
          "data": {"name": "notes"},
          "transform": [{"filter": "datum.panel === 'B1'"}],
          "mark": {"type": "text", "align": "left", "baseline": "alphabetic", "fontSize": 65, "color": "black"},
          "encoding": {"x": {"datum": 2.28, "type": "quantitative"}, "y": {"datum": 57.75, "type": "quantitative"}, "text": {"field": "heading"}}
        },
        {
          "data": {"name": "notes"},
          "transform": [{"filter": "datum.panel === 'B1'"}],
          "mark": {"type": "text", "align": "left", "baseline": "alphabetic", "fontSize": 65, "color": "black"},
          "encoding": {"x": {"datum": 2.28, "type": "quantitative"}, "y": {"datum": 40.85, "type": "quantitative"}, "text": {"field": "p"}}
        }
      ]
    },
    {
      "width": 1243, "height": 1261,
      "layer": [
        {
          "data": {"name": "km"},
          "transform": [{"filter": "datum.panel === 'B2'"}],
          "mark": {"type": "line", "interpolate": "step-after", "strokeWidth": 7},
          "encoding": {
            "x": {"field": "t", "type": "quantitative", "scale": {"domain": [-0.56, 15.42], "nice": false, "zero": false}, "axis": {"values": [0, 5, 10, 15], "format": "d", "title": "Years since Diagnosis Cath"}},
            "y": {"field": "v", "type": "quantitative", "scale": {"domain": [-2.1, 62.3], "nice": false, "zero": false}, "axis": {"values": [0, 10, 20, 30, 40, 50, 60], "format": "d", "title": "% Mortality", "titlePadding": 83}},
            "color": {"field": "group", "type": "nominal", "sort": null,
              "scale": {"domain": ["≤ 0.6", "> 0.6 – ≤ 0.9", "> 0.9"], "range": ["#4DF500", "#2936FF", "#FF0A19"]},
              "legend": {"orient": "none", "legendX": 78, "legendY": 110, "title": null, "symbolType": "stroke", "symbolSize": 11025, "symbolStrokeWidth": 7, "labelFontSize": 65, "labelColor": "black", "labelOffset": 25, "clipHeight": 82}}
          }
        },
        {
          "data": {"name": "notes"},
          "transform": [{"filter": "datum.panel === 'B2'"}],
          "mark": {"type": "text", "align": "left", "baseline": "alphabetic", "fontSize": 65, "color": "black"},
          "encoding": {"x": {"datum": 2.24, "type": "quantitative"}, "y": {"datum": 57.55, "type": "quantitative"}, "text": {"field": "heading"}}
        },
        {
          "data": {"name": "notes"},
          "transform": [{"filter": "datum.panel === 'B2'"}],
          "mark": {"type": "text", "align": "left", "baseline": "alphabetic", "fontSize": 65, "color": "black"},
          "encoding": {"x": {"datum": 2.24, "type": "quantitative"}, "y": {"datum": 40.85, "type": "quantitative"}, "text": {"field": "p"}}
        }
      ]
    }
  ]
}
